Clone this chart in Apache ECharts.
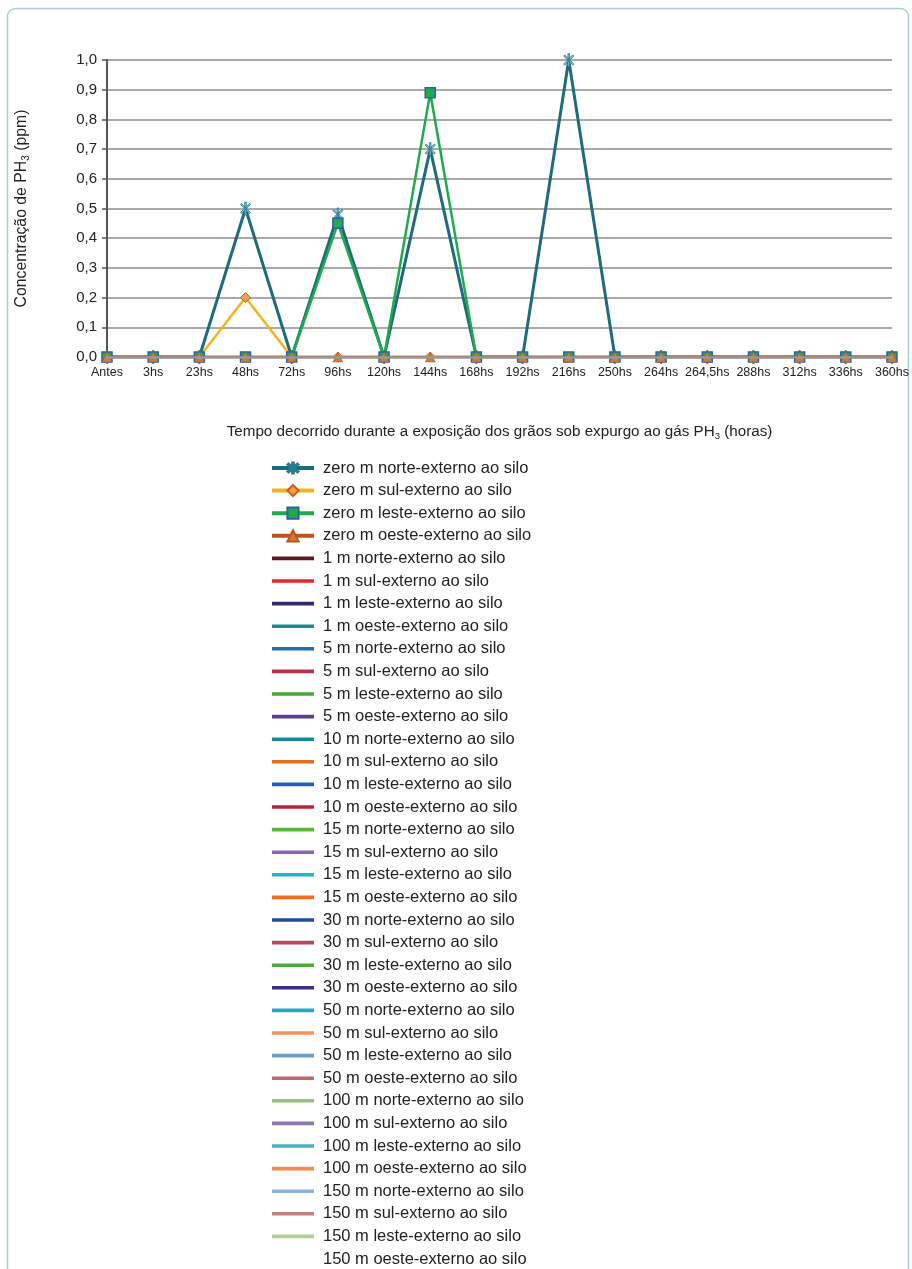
<!DOCTYPE html>
<html>
<head>
<meta charset="utf-8">
<script src="https://cdn.jsdelivr.net/npm/echarts@6/dist/echarts.min.js"></script>
<style>
  html, body { margin: 0; padding: 0; background: #fff; }
  #chart { width: 912px; height: 1269px; }
</style>
</head>
<body>
<div id="chart"></div>
<script>
// Sampling times (hours of fumigation exposure)
const categories = ['Antes', '3hs', '23hs', '48hs', '72hs', '96hs', '120hs', '144hs', '168hs',
  '192hs', '216hs', '250hs', '264hs', '264,5hs', '288hs', '312hs', '336hs', '360hs'];

// PH3 concentration (ppm) measured at 0 m from the silo
const zeroNorte = [0, 0, 0, 0.5, 0, 0.48, 0, 0.7, 0, 0, 1.0, 0, 0, 0, 0, 0, 0, 0];
const zeroSul   = [0, 0, 0, 0.2, 0, 0, 0, 0, 0, 0, 0, 0, 0, 0, 0, 0, 0, 0];
const zeroLeste = [0, 0, 0, 0, 0, 0.45, 0, 0.89, 0, 0, 0, 0, 0, 0, 0, 0, 0, 0];
const zeroOeste = [0, 0, 0, 0, 0, 0, 0, 0, 0, 0, 0, 0, 0, 0, 0, 0, 0, 0];

const yTicks = { min: 0, max: 1, interval: 0.1 };

// Remaining sampling points (legend entries only)
const otherNames = [
  '1 m norte-externo ao silo', '1 m sul-externo ao silo', '1 m leste-externo ao silo', '1 m oeste-externo ao silo',
  '5 m norte-externo ao silo', '5 m sul-externo ao silo', '5 m leste-externo ao silo', '5 m oeste-externo ao silo',
  '10 m norte-externo ao silo', '10 m sul-externo ao silo', '10 m leste-externo ao silo', '10 m oeste-externo ao silo',
  '15 m norte-externo ao silo', '15 m sul-externo ao silo', '15 m leste-externo ao silo', '15 m oeste-externo ao silo',
  '30 m norte-externo ao silo', '30 m sul-externo ao silo', '30 m leste-externo ao silo', '30 m oeste-externo ao silo',
  '50 m norte-externo ao silo', '50 m sul-externo ao silo', '50 m leste-externo ao silo', '50 m oeste-externo ao silo',
  '100 m norte-externo ao silo', '100 m sul-externo ao silo', '100 m leste-externo ao silo', '100 m oeste-externo ao silo',
  '150 m norte-externo ao silo', '150 m sul-externo ao silo', '150 m leste-externo ao silo', '150 m oeste-externo ao silo'
];
const otherColors = [
  '#5a1a1e', '#e8262d', '#2e2a6b', '#1b8a94',
  '#1f6fae', '#b5314a', '#4aa838', '#5b3d99',
  '#178a9a', '#e46b20', '#1f5fbf', '#b8263a',
  '#5cb83a', '#8a62b8', '#20b6cc', '#f26c1e',
  '#1f4f9a', '#b44a60', '#4ea83a', '#3e2f86',
  '#22a8c6', '#f7935a', '#6a9ccc', '#c06870',
  '#93c47a', '#8a78b0', '#4ab0c8', '#f58a4a',
  '#8fb0d8', '#c08080', '#b0d090', '#ffffff'
];

const FONT = "'Liberation Sans', Arial, Helvetica, sans-serif";

// asterisk marker: vertical bar plus two diagonals
const starPath = 'path://M-1.2,-10L1.2,-10L1.2,10L-1.2,10Z' +
  'M6.22,7.92L-7.92,-6.22L-6.22,-7.92L7.92,6.22Z' +
  'M7.92,-6.22L-6.22,7.92L-7.92,6.22L6.22,-7.92Z';

// plain thick stroke used as legend key for the series without markers
const barIcon = 'path://M0,0L42,0L42,3.6L0,3.6Z';

const chart = echarts.init(document.getElementById('chart'), null, { renderer: 'canvas' });

const mainSeries = [
  {
    name: 'zero m norte-externo ao silo', type: 'line', data: zeroNorte,
    symbol: starPath, symbolKeepAspect: true, symbolSize: 13,
    lineStyle: { color: '#1d6b7c', width: 3 },
    itemStyle: { color: '#86c0cc', borderColor: '#2a7d8e', borderWidth: 0.8 }
  },
  {
    name: 'zero m sul-externo ao silo', type: 'line', data: zeroSul,
    symbol: 'diamond', symbolSize: 10,
    lineStyle: { color: '#f6b21a', width: 2.5 },
    itemStyle: { color: '#f0a050', borderColor: '#c2601a', borderWidth: 1 }
  },
  {
    name: 'zero m leste-externo ao silo', type: 'line', data: zeroLeste,
    symbol: 'rect', symbolSize: 10,
    lineStyle: { color: '#1fab4c', width: 2.5 },
    itemStyle: { color: '#1fab4c', borderColor: '#2f5ea8', borderWidth: 1.5 }
  },
  {
    name: 'zero m oeste-externo ao silo', type: 'line', data: zeroOeste,
    symbol: 'triangle', symbolSize: 10,
    lineStyle: { color: '#c0521e', width: 2.5 },
    itemStyle: { color: '#d9772e', borderColor: '#b5561c', borderWidth: 0.5 }
  }
];

const otherSeries = otherNames.map((name, i) => ({
  name, type: 'line', data: [], symbol: 'none',
  lineStyle: { color: otherColors[i], width: 4 },
  itemStyle: { color: otherColors[i] }
}));

const legendData = mainSeries.map(s => ({ name: s.name }))
  .concat(otherNames.map(n => ({ name: n, icon: barIcon })));

const option = {
  animation: false,
  backgroundColor: '#ffffff',
  textStyle: { fontFamily: FONT },
  graphic: [{
    type: 'rect', left: 5, top: 6,
    shape: { width: 901, height: 1320, r: 8 },
    style: { fill: 'none', stroke: '#a9cdd0', lineWidth: 1.5 },
    silent: true
  }],
  grid: { left: 107, top: 60, width: 786, height: 297 },
  xAxis: {
    type: 'category', data: categories, boundaryGap: false, zlevel: 1,
    axisLine: { show: true, lineStyle: { color: '#999', width: 2.6 } },
    axisTick: { show: false },
    axisLabel: { color: '#222', fontFamily: FONT, fontSize: 12.5, margin: 9, interval: 0 },
    name: '{a|Tempo decorrido durante a exposição dos grãos sob expurgo ao gás PH}{s|3}{a| (horas)}',
    nameLocation: 'middle', nameGap: 66,
    nameTextStyle: {
      rich: {
        a: { fontFamily: FONT, fontSize: 15.2, color: '#222', lineHeight: 18 },
        s: { fontFamily: FONT, fontSize: 9.5, color: '#222', lineHeight: 10, verticalAlign: 'bottom', padding: [8, 0, 0, 0] }
      }
    }
  },
  yAxis: {
    type: 'value', min: yTicks.min, max: yTicks.max, interval: yTicks.interval,
    axisLine: { show: true, lineStyle: { color: '#555', width: 2 } },
    axisTick: { show: true, length: 5, lineStyle: { color: '#555', width: 1.5 } },
    axisLabel: {
      color: '#222', fontFamily: FONT, fontSize: 15, margin: 10,
      formatter: v => v.toFixed(1).replace('.', ',')
    },
    splitLine: { show: true, lineStyle: { color: '#8c8c8c', width: 1.5 } },
    name: '{a|Concentração de PH}{s|3}{a| (ppm)}',
    nameLocation: 'middle', nameRotate: 90, nameGap: 76,
    nameTextStyle: {
      rich: {
        a: { fontFamily: FONT, fontSize: 15.8, color: '#222', lineHeight: 18 },
        s: { fontFamily: FONT, fontSize: 10, color: '#222', lineHeight: 10, verticalAlign: 'bottom', padding: [8, 0, 0, 0] }
      }
    }
  },
  legend: {
    orient: 'vertical', left: 270, top: 459, height: 830, padding: 0,
    itemWidth: 42, itemHeight: 14, itemGap: 4.6,
    lineStyle: { width: 4 },
    textStyle: { fontFamily: FONT, fontSize: 16.5, color: '#222', lineHeight: 18, padding: [0, 0, 0, 4] },
    data: legendData
  },
  series: mainSeries.concat(otherSeries)
};

chart.setOption(option);
</script>
</body>
</html>
